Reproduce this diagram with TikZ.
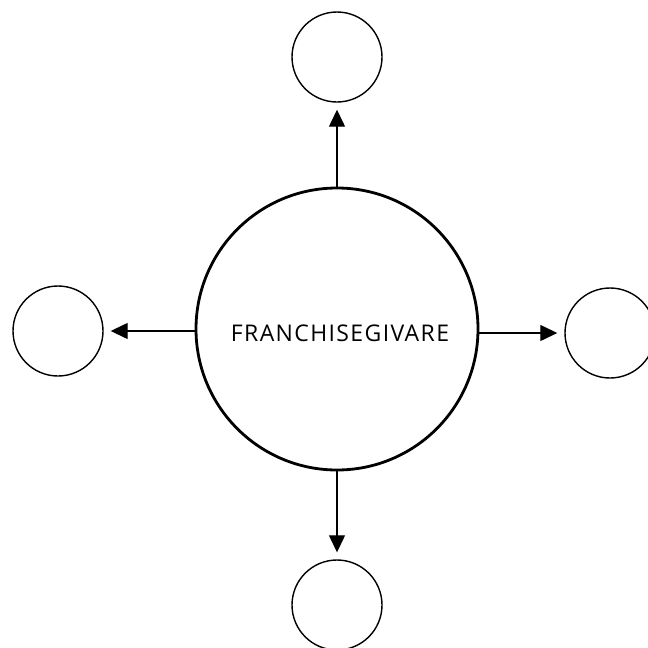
\documentclass[tikz,border=0pt]{standalone}
\usepackage{fontspec}
\setmainfont{Open Sans}[LetterSpace=6]
\usetikzlibrary{arrows.meta}
\begin{document}
\begin{tikzpicture}[x=1pt,y=-1pt,
  big/.style={circle,draw,line width=2.8pt,minimum size=282pt,inner sep=0pt},
  lbl/.style={font=\fontsize{23}{25}\selectfont,anchor=base,inner sep=0pt},
  small/.style={circle,draw,line width=1.4pt,minimum size=90pt,inner sep=0pt},
  conn/.style={line width=1.3pt,-{Triangle[length=17pt,width=16pt]},shorten >=7pt}]
\useasboundingbox (0,0) rectangle (648,648);
\node[big] (c) at (337,329) {};
\node[lbl] (txt) at (340,341) {FRANCHISEGIVARE};
\node[small] (t) at (337,57) {};
\node[small] (l) at (58,331) {};
\node[small] (r) at (610,333) {};
\node[small] (b) at (337,605) {};
\draw[conn] (c.north) -- (t.south);
\draw[conn] (c.west |- l.east) -- (l.east);
\draw[conn] (c.east |- r.west) -- (r.west);
\draw[conn] (c.south) -- (b.north);
\end{tikzpicture}
\end{document}
